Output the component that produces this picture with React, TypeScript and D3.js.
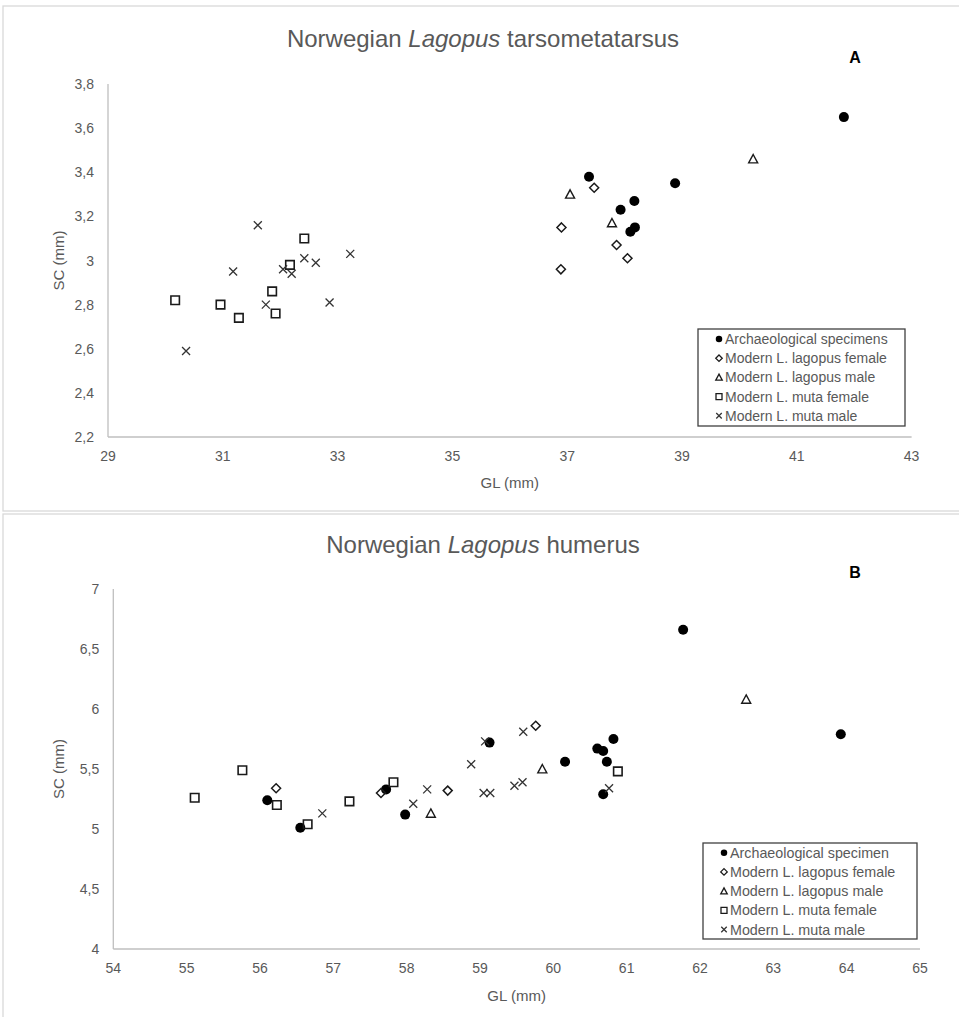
import React from 'react';
import * as d3 from 'd3';

const W = 959;
const H = 1017;

// Tarsometatarsus: [GL, SC] in mm
const tmtArchaeological: [number, number][] = [
  [41.82, 3.65], [37.38, 3.38], [38.88, 3.35], [38.17, 3.27], [37.93, 3.23], [38.18, 3.15], [38.1, 3.13],
];
const tmtLagopusFemale: [number, number][] = [
  [37.47, 3.33], [36.9, 3.15], [37.86, 3.07], [38.05, 3.01], [36.89, 2.96],
];
const tmtLagopusMale: [number, number][] = [
  [40.24, 3.46], [37.05, 3.3], [37.78, 3.17],
];
const tmtMutaFemale: [number, number][] = [
  [32.42, 3.1], [32.17, 2.98], [31.86, 2.86], [31.92, 2.76], [30.96, 2.8], [31.28, 2.74], [30.17, 2.82],
];
const tmtMutaMale: [number, number][] = [
  [31.61, 3.16], [33.22, 3.03], [32.42, 3.01], [32.62, 2.99], [32.05, 2.96], [32.2, 2.94],
  [31.18, 2.95], [32.86, 2.81], [31.75, 2.8], [30.36, 2.59],
];

// Humerus: [GL, SC] in mm
const humArchaeological: [number, number][] = [
  [56.1, 5.24], [56.55, 5.01], [57.72, 5.33], [57.98, 5.12], [59.13, 5.72], [60.16, 5.56],
  [60.6, 5.67], [60.68, 5.65], [60.73, 5.56], [60.82, 5.75], [60.68, 5.29], [61.77, 6.66], [63.92, 5.79],
];
const humLagopusFemale: [number, number][] = [
  [56.22, 5.34], [57.65, 5.3], [58.56, 5.32], [59.76, 5.86],
];
const humLagopusMale: [number, number][] = [
  [58.33, 5.13], [59.85, 5.5], [62.63, 6.08],
];
const humMutaFemale: [number, number][] = [
  [55.11, 5.26], [55.76, 5.49], [56.23, 5.2], [56.65, 5.04], [57.22, 5.23], [57.82, 5.39], [60.88, 5.48],
];
const humMutaMale: [number, number][] = [
  [56.85, 5.13], [58.09, 5.21], [58.28, 5.33], [58.88, 5.54], [59.07, 5.73], [59.05, 5.3],
  [59.14, 5.3], [59.47, 5.36], [59.58, 5.39], [59.59, 5.81], [60.76, 5.34],
];

const tmtXTicks = [29, 31, 33, 35, 37, 39, 41, 43];
const tmtYTicks = [2.2, 2.4, 2.6, 2.8, 3, 3.2, 3.4, 3.6, 3.8];
const humXTicks = [54, 55, 56, 57, 58, 59, 60, 61, 62, 63, 64, 65];
const humYTicks = [4, 4.5, 5, 5.5, 6, 6.5, 7];

const tmtLegend = [
  'Archaeological specimens',
  'Modern L. lagopus female',
  'Modern L. lagopus male',
  'Modern L. muta female',
  'Modern L. muta male',
];
const humLegend = [
  'Archaeological specimen',
  'Modern L. lagopus female',
  'Modern L. lagopus male',
  'Modern L. muta female',
  'Modern L. muta male',
];

// Marker shapes; size is the squared width in px
type Ctx = { moveTo: (x: number, y: number) => void; lineTo: (x: number, y: number) => void; arc: (...a: number[]) => void; closePath: () => void; rect: (x: number, y: number, w: number, h: number) => void };
const symDot = { draw(ctx: Ctx, size: number) { const r = Math.sqrt(size) / 2; ctx.moveTo(r, 0); ctx.arc(0, 0, r, 0, 2 * Math.PI); } };
const symDiamond = { draw(ctx: Ctx, size: number) { const r = Math.sqrt(size) / 2; ctx.moveTo(0, -r); ctx.lineTo(r, 0); ctx.lineTo(0, r); ctx.lineTo(-r, 0); ctx.closePath(); } };
const symTriangle = { draw(ctx: Ctx, size: number) { const r = Math.sqrt(size) / 2; ctx.moveTo(0, -r); ctx.lineTo(r, r * 0.85); ctx.lineTo(-r, r * 0.85); ctx.closePath(); } };
const symSquare = { draw(ctx: Ctx, size: number) { const r = Math.sqrt(size) / 2; ctx.rect(-r, -r, 2 * r, 2 * r); } };
const symCross = { draw(ctx: Ctx, size: number) { const r = Math.sqrt(size) / 2; ctx.moveTo(-r, -r); ctx.lineTo(r, r); ctx.moveTo(r, -r); ctx.lineTo(-r, r); } };

const seriesStyles = [
  { type: symDot, w: 10, lw: 6.5, fill: '#000', stroke: 'none', sw: 0 },
  { type: symDiamond, w: 9, lw: 6.5, fill: 'none', stroke: '#1a1a1a', sw: 1.5 },
  { type: symTriangle, w: 9, lw: 6.5, fill: 'none', stroke: '#1a1a1a', sw: 1.4 },
  { type: symSquare, w: 8.5, lw: 6, fill: 'none', stroke: '#1a1a1a', sw: 1.6 },
  { type: symCross, w: 8, lw: 5.5, fill: 'none', stroke: '#333', sw: 1.3 },
];

const FONT = "'Liberation Sans', Arial, Helvetica, sans-serif";
const GREY = '#595959';
const AXIS = '#bfbfbf';

const fmt = (v: number) => String(+v.toFixed(1)).replace('.', ',');

type PanelProps = {
  title: string;
  letter: string;
  titleY: number;
  letterY: number;
  xDomain: [number, number];
  yDomain: [number, number];
  xRange: [number, number];
  yRange: [number, number];
  xTicks: number[];
  yTicks: number[];
  series: [number, number][][];
  legend: string[];
  legendBox: { x: number; y: number; w: number; h: number; row0: number; step: number; font: number };
  xLabelY: number;
};

function Panel(p: PanelProps) {
  const x = d3.scaleLinear().domain(p.xDomain).range(p.xRange);
  const y = d3.scaleLinear().domain(p.yDomain).range(p.yRange);
  const cx = (p.xRange[0] + p.xRange[1]) / 2;
  const cy = (p.yRange[0] + p.yRange[1]) / 2;
  const lb = p.legendBox;
  return (
    <g>
      <text x={483} y={p.titleY} textAnchor="middle" dominantBaseline="central" fontFamily={FONT} fontSize={24} fill={GREY}>
        Norwegian <tspan fontStyle="italic">Lagopus</tspan> {p.title}
      </text>
      <text x={855} y={p.letterY} textAnchor="middle" dominantBaseline="central" fontFamily={FONT} fontSize={16} fontWeight="bold" fill="#000">
        {p.letter}
      </text>
      <line x1={p.xRange[0]} x2={p.xRange[0]} y1={p.yRange[1]} y2={p.yRange[0]} stroke={AXIS} strokeWidth={1.3} />
      <line x1={p.xRange[0]} x2={p.xRange[1]} y1={p.yRange[0]} y2={p.yRange[0]} stroke={AXIS} strokeWidth={1.3} />
      {p.yTicks.map((t) => (
        <text key={'y' + t} x={p.xRange[0] - 14} y={y(t)} textAnchor="end" dominantBaseline="central" fontFamily={FONT} fontSize={14} fill={GREY}>
          {fmt(t)}
        </text>
      ))}
      {p.xTicks.map((t) => (
        <text key={'x' + t} x={x(t)} y={p.yRange[0] + 19} textAnchor="middle" dominantBaseline="central" fontFamily={FONT} fontSize={14} fill={GREY}>
          {fmt(t)}
        </text>
      ))}
      <text x={cx} y={p.xLabelY} textAnchor="middle" dominantBaseline="central" fontFamily={FONT} fontSize={15} fill={GREY}>
        GL (mm)
      </text>
      <text transform={`translate(58,${cy}) rotate(-90)`} textAnchor="middle" dominantBaseline="central" fontFamily={FONT} fontSize={15} fill={GREY}>
        SC (mm)
      </text>
      {p.series.map((pts, si) => {
        const s = seriesStyles[si];
        const path = d3.symbol<unknown>().type(s.type as any).size(s.w * s.w)() as string;
        return (
          <g key={'s' + si}>
            {pts.map((d, i) => (
              <path key={i} d={path} transform={`translate(${x(d[0])},${y(d[1])})`} fill={s.fill} stroke={s.stroke} strokeWidth={s.sw} />
            ))}
          </g>
        );
      })}
      <rect x={lb.x} y={lb.y} width={lb.w} height={lb.h} fill="#fff" stroke="#404040" strokeWidth={1.3} />
      {p.legend.map((label, i) => {
        const s = seriesStyles[i];
        const path = d3.symbol<unknown>().type(s.type as any).size(s.lw * s.lw)() as string;
        const ry = lb.row0 + i * lb.step;
        return (
          <g key={'l' + i}>
            <path d={path} transform={`translate(${lb.x + 21},${ry})`} fill={s.fill} stroke={s.stroke} strokeWidth={s.sw ? 1.3 : 0} />
            <text x={lb.x + 27} y={ry} dominantBaseline="central" fontFamily={FONT} fontSize={lb.font} fill={GREY}>
              {label}
            </text>
          </g>
        );
      })}
    </g>
  );
}

export default function App() {
  return (
    <svg width={W} height={H} style={{ position: 'absolute', left: 0, top: 0, background: '#fff' }}>
      <rect x={0} y={0} width={W} height={H} fill="#fff" />
      <rect x={3} y={6} width={W + 10} height={505} fill="none" stroke="#d9d9d9" strokeWidth={1.3} />
      <rect x={3} y={514} width={W + 10} height={H} fill="none" stroke="#d9d9d9" strokeWidth={1.3} />
      <Panel
        title="tarsometatarsus"
        letter="A"
        titleY={38}
        letterY={57}
        xDomain={[29, 43]}
        yDomain={[2.2, 3.8]}
        xRange={[108, 911.6]}
        yRange={[437, 84]}
        xTicks={tmtXTicks}
        yTicks={tmtYTicks}
        series={[tmtArchaeological, tmtLagopusFemale, tmtLagopusMale, tmtMutaFemale, tmtMutaMale]}
        legend={tmtLegend}
        legendBox={{ x: 698, y: 329, w: 207, h: 97, row0: 339, step: 19.2, font: 14 }}
        xLabelY={482}
      />
      <Panel
        title="humerus"
        letter="B"
        titleY={544}
        letterY={572}
        xDomain={[54, 65]}
        yDomain={[4, 7]}
        xRange={[113.3, 920]}
        yRange={[949, 589]}
        xTicks={humXTicks}
        yTicks={humYTicks}
        series={[humArchaeological, humLagopusFemale, humLagopusMale, humMutaFemale, humMutaMale]}
        legend={humLegend}
        legendBox={{ x: 703, y: 843, w: 214, h: 96, row0: 852.7, step: 19.2, font: 14.3 }}
        xLabelY={995}
      />
    </svg>
  );
}
